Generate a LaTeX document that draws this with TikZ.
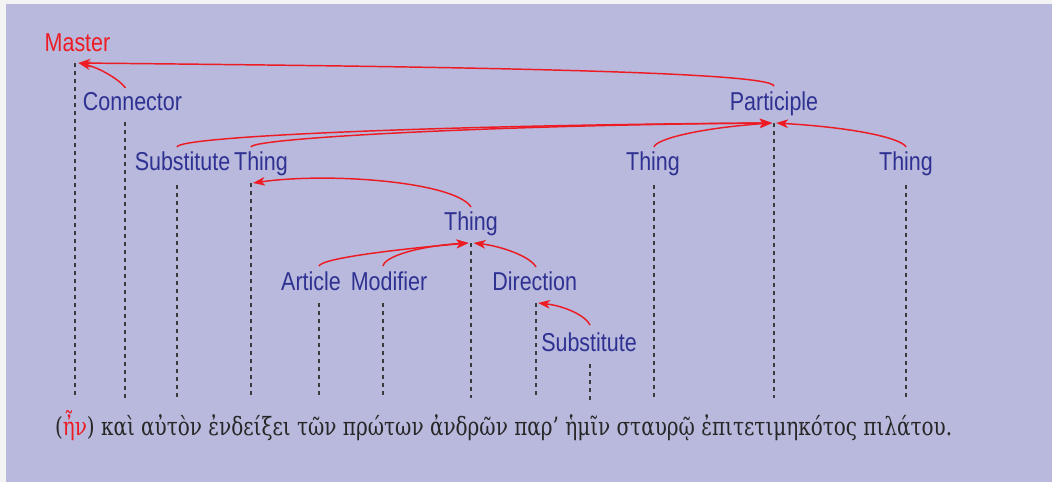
\documentclass[tikz,border=0pt]{standalone}
\usepackage{fontspec}
\usetikzlibrary{arrows.meta}
\newfontfamily\labfont[FakeStretch=0.83]{Liberation Sans}
\newfontfamily\grkfont{DejaVu Serif Condensed}
\definecolor{panelbg}{HTML}{B8B9DC}
\definecolor{pagebg}{HTML}{F3F3F4}
\definecolor{lblue}{HTML}{2E3192}
\definecolor{lred}{HTML}{ED1C24}
\definecolor{linegray}{HTML}{3A3A3A}
\begin{document}
\begin{tikzpicture}[x=0.75pt,y=0.75pt,
  lab/.style={text=lblue,font=\labfont\fontsize{19.4}{23}\selectfont,anchor=base,inner sep=0pt},
  headlab/.style={lab,text=lred},
  guide/.style={draw=linegray,line width=0.9pt,dash pattern=on 3pt off 3pt},
  dep/.style={draw=lred,line width=1.1pt,-{Stealth[length=9pt,width=6.5pt,inset=2.5pt]}}]
% page and panel
\fill[pagebg] (0,0) rectangle (1052,482);
\fill[panelbg] (6,0) rectangle (1052,478);
\useasboundingbox (0,0) rectangle (1052,482);

% labels
\node[headlab] (master) at (77.5,430) {Master};
\node[lab] (conn) at (132.5,371) {Connector};
\node[lab] (part) at (774,371) {Participle};
\node[lab] (subA) at (182.5,311) {Substitute};
\node[lab] (thA) at (261,311) {Thing};
\node[lab] (thB) at (653,311) {Thing};
\node[lab] (thC) at (906,311) {Thing};
\node[lab] (thM) at (471,251) {Thing};
\node[lab] (art) at (311,191) {Article};
\node[lab] (mod) at (389,191) {Modifier};
\node[lab] (dir) at (534.7,191) {Direction};
\node[lab] (subB) at (589,130.5) {Substitute};

% tops and feet of the guide lines
\coordinate (gMaster) at (75,419);   \coordinate (fMaster) at (75,84);
\coordinate (gConn) at (125,360);    \coordinate (fConn) at (125,84);
\coordinate (gSubA) at (177,297);    \coordinate (fSubA) at (177,84);
\coordinate (gThA) at (251,299);     \coordinate (fThA) at (251,84);
\coordinate (gArt) at (319,179);     \coordinate (fArt) at (319,84);
\coordinate (gMod) at (383,179);     \coordinate (fMod) at (383,84);
\coordinate (gThM) at (471,239);     \coordinate (fThM) at (471,84);
\coordinate (gDir) at (536,179);     \coordinate (fDir) at (536,84);
\coordinate (gSubB) at (590,118);    \coordinate (fSubB) at (590,82);
\coordinate (gThB) at (654,297);     \coordinate (fThB) at (654,84);
\coordinate (gPart) at (774,359);    \coordinate (fPart) at (774,84);
\coordinate (gThC) at (906,297);     \coordinate (fThC) at (906,84);

\foreach \w in {Master,Conn,SubA,ThA,Art,Mod,ThM,Dir,SubB,ThB,Part,ThC}
  \draw[guide] (g\w) -- (f\w);

% arrow tails above the dependent labels
\coordinate (sPart) at (774,396);
\coordinate (sConn) at (125.5,394);
\coordinate (sSubA) at (177,335);
\coordinate (sThA) at (251,335);
\coordinate (sThB) at (654,335);
\coordinate (sThC) at (906,335);
\coordinate (sThM) at (471,275);
\coordinate (sArt) at (319,216);
\coordinate (sMod) at (383,216);
\coordinate (sDir) at (536,215);
\coordinate (sSubB) at (590,157);

% arrow heads beside the guide-line tops
\coordinate (hMaster) at (78.5,419);
\coordinate (hPartL) at (772,359);
\coordinate (hPartR) at (776,359);
\coordinate (hThA) at (253,299);
\coordinate (hThML) at (468.5,239);
\coordinate (hThMR) at (473.5,239);
\coordinate (hDir) at (538,179);

% dependency arrows
\draw[dep] (sPart) .. controls (770,412) and (378,416) .. (hMaster);
\draw[dep] (sConn) .. controls (120,402) and (100,414) .. (hMaster);
\draw[dep] (sSubA) .. controls (178,346) and (450,357) .. (hPartL);
\draw[dep] (sThA) .. controls (252,344) and (500,357) .. (hPartL);
\draw[dep] (sThB) .. controls (656,343) and (700,354) .. (hPartL);
\draw[dep] (sThC) .. controls (902,343) and (860,354) .. (hPartR);
\draw[dep] (sThM) .. controls (455,300) and (330,310) .. (hThA);
\draw[dep] (sArt) .. controls (322,224) and (400,233) .. (hThML);
\draw[dep] (sMod) .. controls (385,226) and (420,236) .. (hThML);
\draw[dep] (sDir) .. controls (530,226) and (500,236) .. (hThMR);
\draw[dep] (sSubB) .. controls (586,166) and (565,176) .. (hDir);

% the Greek sentence
\node[anchor=base,inner sep=0pt,text=black!85] (greek) at (503.5,47)
  {\resizebox{672.75pt}{18.75pt}{\grkfont (\textcolor{lred}{ἦν}) καὶ αὐτὸν ἐνδείξει τῶν πρώτων ἀνδρῶν παρ’ ἡμῖν σταυρῷ ἐπιτετιμηκότος πιλάτου.}};
\end{tikzpicture}
\end{document}
